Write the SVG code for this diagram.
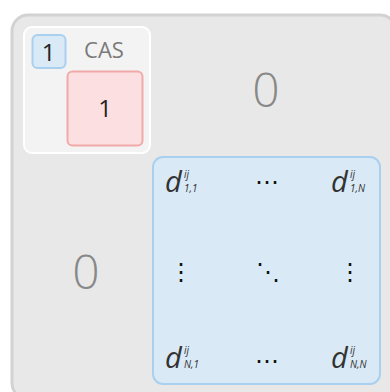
<svg xmlns="http://www.w3.org/2000/svg" width="390" height="392" viewBox="0 0 390 392">
<style>
.num{font-family:"Open Sans","Liberation Sans",sans-serif;fill:#222;text-anchor:middle;font-size:24px}
.zero{font-family:"Open Sans","Liberation Sans",sans-serif;font-weight:300;font-size:48px;fill:#888;text-anchor:middle}
.d{font-family:"Open Sans","Liberation Sans",sans-serif;font-style:italic;fill:#333;font-size:29px}
.s{font-family:"Open Sans","Liberation Sans",sans-serif;font-style:italic;fill:#333;font-size:10px}
.dots{font-family:"DejaVu Sans",sans-serif;font-size:24px;fill:#111;text-anchor:middle}
</style>
<rect x="12" y="15" width="384" height="384" rx="16" fill="#e8e8e8" stroke="#d2d2d2" stroke-width="3"/>
<g id="cas">
<rect x="24" y="27" width="126" height="126" rx="8" fill="#f3f3f3" stroke="#ffffff" stroke-width="2"/>
<text x="104" y="58" font-family="Open Sans, Liberation Sans, sans-serif" font-size="22" fill="#7a7a7a" text-anchor="middle">CAS</text>
</g>
<g id="label1">
<rect x="32.5" y="35" width="33" height="33" rx="5" fill="#d9e9f6" stroke="#a9d0ef" stroke-width="2"/>
<text class="num" x="48.5" y="60.5">1</text>
</g>
<g id="red1">
<rect x="67.5" y="71.5" width="75" height="74" rx="5" fill="#fcdfe0" stroke="#f1a9a9" stroke-width="2"/>
<text class="num" x="105" y="117">1</text>
</g>
<g id="zero-top"><text class="zero" x="266" y="107">0</text></g>
<g id="zero-left"><text class="zero" x="86" y="289">0</text></g>
<g id="matrix">
<rect x="153" y="157" width="227" height="227" rx="10" fill="#d9e9f6" stroke="#a9d0ef" stroke-width="2"/>
<text class="d" x="165" y="192">d</text><text class="s" x="184" y="178">ij</text><text class="s" x="184" y="192">1,1</text>
<text class="d" x="331" y="192">d</text><text class="s" x="350" y="178">ij</text><text class="s" x="350" y="192">1,N</text>
<text class="d" x="165" y="368">d</text><text class="s" x="184" y="354">ij</text><text class="s" x="184" y="368">N,1</text>
<text class="d" x="331" y="368">d</text><text class="s" x="350" y="354">ij</text><text class="s" x="350" y="368">N,N</text>
<text class="dots" x="267" y="190">⋯</text>
<text class="dots" x="267" y="369">⋯</text>
<text class="dots" x="181" y="280">⋮</text>
<text class="dots" x="350" y="280">⋮</text>
<text class="dots" x="268" y="280">⋱</text>
</g>
</svg>
